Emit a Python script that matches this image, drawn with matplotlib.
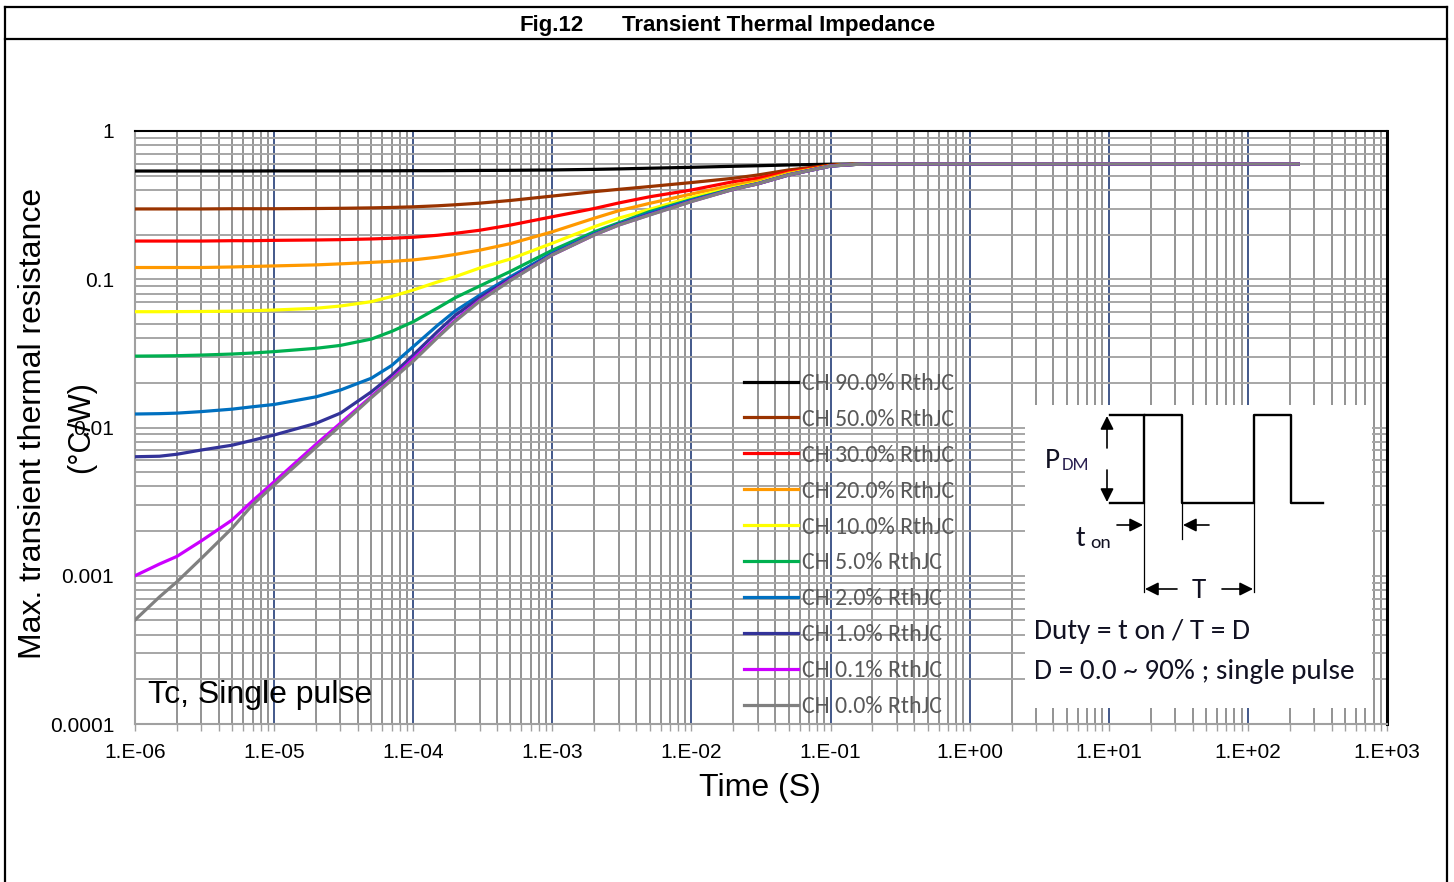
import matplotlib
matplotlib.use('Agg')
import matplotlib.pyplot as plt
from matplotlib.lines import Line2D
from matplotlib.ticker import LogLocator, NullFormatter

W, H = 1454, 882

# time points (s)
t = [1e-6, 1.5e-6, 2e-6, 3e-6, 5e-6, 7e-6, 1e-5, 2e-5, 3e-5, 5e-5, 7e-5, 1e-4, 1.5e-4,
     2e-4, 3e-4, 5e-4, 1e-3, 2e-3, 3e-3, 5e-3, 1e-2, 2e-2, 3e-2, 5e-2, 1e-1, 1.5e-1,
     2e-1, 2.3e2]

# Zth curves (C/W)
d90 = [.537, .537, .537, .537, .537, .537, .538, .538, .538, .539, .539, .540, .540,
       .541, .542, .543, .546, .551, .555, .561, .569, .578, .583, .590, .597, .599,
       .600, .600]
d50 = [.298, .298, .298, .298, .299, .299, .299, .300, .301, .303, .305, .308, .313,
       .318, .326, .340, .364, .390, .404, .422, .449, .480, .505, .546, .588, .597,
       .600, .600]
d30 = [.181, .181, .181, .181, .182, .182, .183, .184, .185, .187, .189, .192, .198,
       .204, .214, .232, .264, .300, .327, .360, .400, .455, .480, .531, .585, .596,
       .600, .600]
d20 = [.120, .120, .120, .120, .121, .122, .123, .125, .127, .130, .132, .135, .141,
       .147, .157, .174, .209, .258, .290, .325, .376, .432, .460, .520, .583, .596,
       .600, .600]
d10 = [.0604, .0604, .0605, .0606, .0609, .0614, .0620, .0637, .066, .0706, .0765, .0846, .096,
       .104, .119, .137, .175, .226, .258, .296, .357, .415, .448, .512, .582, .595,
       .600, .600]
d5 = [.0303, .0304, .0305, .0308, .0313, .0318, .0325, .0342, .0358, .0395, .0445, .0517, .064,
      .075, .090, .113, .157, .209, .240, .286, .345, .408, .443, .508, .581, .595,
      .600, .600]
d2 = [.01233, .0124, .0125, .0128, .0133, .0138, .0143, .0161, .0179, .0215, .0262, .0351, .049,
      .061, .078, .104, .150, .203, .236, .280, .342, .406, .441, .506, .580, .595,
      .600, .600]
d1 = [.00635, .0064, .0066, .00705, .0076, .0082, .0089, .01067, .0125, .0174, .0225, .0308, .0445,
      .057, .075, .101, .147, .200, .234, .274, .337, .405, .440, .505, .580, .595,
      .600, .600]
d01 = [.001, .0012, .00135, .00172, .00238, .0032, .0043, .0077, .0107, .0162, .0213, .0290, .0412,
       .053, .072, .099, .146, .199, .232, .272, .335, .404, .440, .505, .580, .595,
       .600, .600]
d0 = [.000503, .00072, .00091, .00131, .0021, .00301, .00409, .00734, .0103, .0159, .0209, .0280, .0405,
      .052, .071, .098, .146, .199, .232, .271, .334, .404, .440, .505, .580, .595,
      .600, .600]

series = [d90, d50, d30, d20, d10, d5, d2, d1, d01, d0]
labels = ['CH 90.0% RthJC', 'CH 50.0% RthJC', 'CH 30.0% RthJC', 'CH 20.0% RthJC',
          'CH 10.0% RthJC', 'CH 5.0% RthJC', 'CH 2.0% RthJC', 'CH 1.0% RthJC',
          'CH 0.1% RthJC', 'CH 0.0% RthJC']
colors = ['#000000', '#993300', '#ff0000', '#ff9900', '#ffff00',
          '#00b050', '#0070c0', '#333399', '#cc00ff', '#808080']

xticks = [1e-6, 1e-5, 1e-4, 1e-3, 1e-2, 1e-1, 1e0, 1e1, 1e2, 1e3]
xticklabels = ['1.E-06', '1.E-05', '1.E-04', '1.E-03', '1.E-02', '1.E-01',
               '1.E+00', '1.E+01', '1.E+02', '1.E+03']
yticks = [1e-4, 1e-3, 1e-2, 1e-1, 1]
yticklabels = ['0.0001', '0.001', '0.01', '0.1', '1']

arial = ['Liberation Sans', 'DejaVu Sans']
calibri = ['Carlito', 'Lato', 'DejaVu Sans']


def fx(px):
    return px / W


def fy(py):
    return 1 - py / H


fig = plt.figure(figsize=(W / 100, H / 100), dpi=100)

# outer frame + title bar
for xs, ys in [([5, 5], [7, H]), ([1447, 1447], [7, H]), ([5, 1447], [7, 7]), ([5, 1447], [39, 39])]:
    fig.add_artist(Line2D([fx(v) for v in xs], [fy(v) for v in ys], color='black', lw=1.6))
fig.text(fx(552), fy(25), 'Fig.12', family=arial, weight='bold', fontsize=16,
         ha='center', va='center')
fig.text(fx(779), fy(25), 'Transient Thermal Impedance', family=arial, weight='bold',
         fontsize=16, ha='center', va='center')

ax = fig.add_axes([fx(135), fy(724), fx(1387) - fx(135), fy(131) - fy(724)])
ax.set_xscale('log')
ax.set_yscale('log')
ax.set_xlim(1e-6, 1e3)
ax.set_ylim(1e-4, 1)

for s, lab, c in zip(series, labels, colors):
    ax.plot(t, s, color=c, lw=2.3, label=lab, zorder=3, solid_joinstyle='round')

ax.xaxis.set_minor_locator(LogLocator(base=10, subs=range(2, 10), numticks=20))
ax.yaxis.set_minor_locator(LogLocator(base=10, subs=range(2, 10), numticks=20))
ax.xaxis.set_minor_formatter(NullFormatter())
ax.yaxis.set_minor_formatter(NullFormatter())
ax.set_xticks(xticks)
ax.set_xticklabels(xticklabels, family=arial, fontsize=15)
ax.set_yticks(yticks)
ax.set_yticklabels(yticklabels, family=arial, fontsize=15)

ax.grid(which='major', axis='x', color='#0f2b6b', lw=1.1, zorder=1)
ax.grid(which='minor', axis='x', color='#808080', lw=1.2, zorder=1)
ax.grid(which='both', axis='y', color='#a6a6a6', lw=1.4, zorder=1)
ax.set_axisbelow(True)

ax.tick_params(axis='x', which='both', direction='out', length=5, color='#a0a0a0', width=1, pad=9)
ax.tick_params(axis='y', which='both', length=0, pad=15)

ax.spines['top'].set_color('black')
ax.spines['top'].set_linewidth(1.5)
ax.spines['right'].set_color('black')
ax.spines['right'].set_linewidth(2.2)
ax.spines['left'].set_color('#a0a0a0')
ax.spines['left'].set_linewidth(1.5)
ax.spines['bottom'].set_color('#a0a0a0')
ax.spines['bottom'].set_linewidth(1.5)

leg = ax.legend(loc='upper left', bbox_to_anchor=((744 - 135) / 1252, (724 - 373) / 593),
                frameon=False, borderpad=0, borderaxespad=0, handlelength=2.25,
                handletextpad=0.18, labelspacing=0.62,
                prop={'family': calibri, 'size': 17.3})
for txt in leg.get_texts():
    txt.set_color('#595959')

ax.text((148 - 135) / 1252, (724 - 695) / 593, 'Tc, Single pulse', transform=ax.transAxes,
        family=arial, fontsize=23, ha='left', va='center', zorder=5)

fig.text(fx(33), fy(423), 'Max. transient thermal resistance', rotation=90,
         family=arial, fontsize=23, ha='center', va='center')
fig.text(fx(81), fy(427), '(\u00b0C/W)', rotation=90,
         family=arial, fontsize=22, ha='center', va='center')
fig.text(fx(760), fy(788), 'Time (S)', family=arial, fontsize=23, ha='center', va='center')

# inset with the pulse diagram
ins = fig.add_axes([fx(1025), fy(708), fx(1372) - fx(1025), fy(405) - fy(708)], zorder=5)
ins.set_xlim(1025, 1372)
ins.set_ylim(708, 405)
ins.set_facecolor('white')
ins.set_xticks([])
ins.set_yticks([])
for sp in ins.spines.values():
    sp.set_visible(False)

ins.plot([1110, 1144, 1144, 1182, 1182, 1254, 1254, 1291, 1291, 1323],
         [503, 503, 415, 415, 503, 503, 415, 415, 503, 503], color='black', lw=1.7)
ins.plot([1110, 1144], [415, 415], color='black', lw=1.7)
for xs, ys in [([1182, 1182], [503, 539]), ([1144, 1144], [503, 592]), ([1254, 1254], [503, 592])]:
    ins.plot(xs, ys, color='black', lw=0.9)

arr = dict(arrowstyle='-|>', color='black', lw=1.2, mutation_scale=20, shrinkA=0, shrinkB=0)
for a, b in [((1107, 448), (1107, 416)), ((1107, 470), (1107, 502)),
             ((1117, 525), (1143, 525)), ((1209, 525), (1183, 525)),
             ((1177, 589), (1145, 589)), ((1222, 589), (1253, 589))]:
    ins.annotate('', xy=b, xytext=a, arrowprops=arr)

tc = '#111122'
ins.text(1045, 461, 'P', family=calibri, fontsize=21, color=tc, ha='left', va='center')
ins.text(1062, 465, 'DM', family=calibri, fontsize=13.5, color='#2a2050', ha='left', va='center')
ins.text(1076, 539, 't', family=calibri, fontsize=21, color=tc, ha='left', va='center')
ins.text(1090, 543, 'on', family=calibri, fontsize=14, color=tc, ha='left', va='center')
ins.text(1199, 590, 'T', family=calibri, fontsize=21, color=tc, ha='center', va='center')
ins.text(1034, 631, 'Duty = t on / T = D', family=calibri, fontsize=21, color=tc,
         ha='left', va='center')
ins.text(1034, 671, 'D = 0.0 ~ 90% ; single pulse', family=calibri, fontsize=21, color=tc,
         ha='left', va='center')

fig.savefig('out.png', dpi=100)
